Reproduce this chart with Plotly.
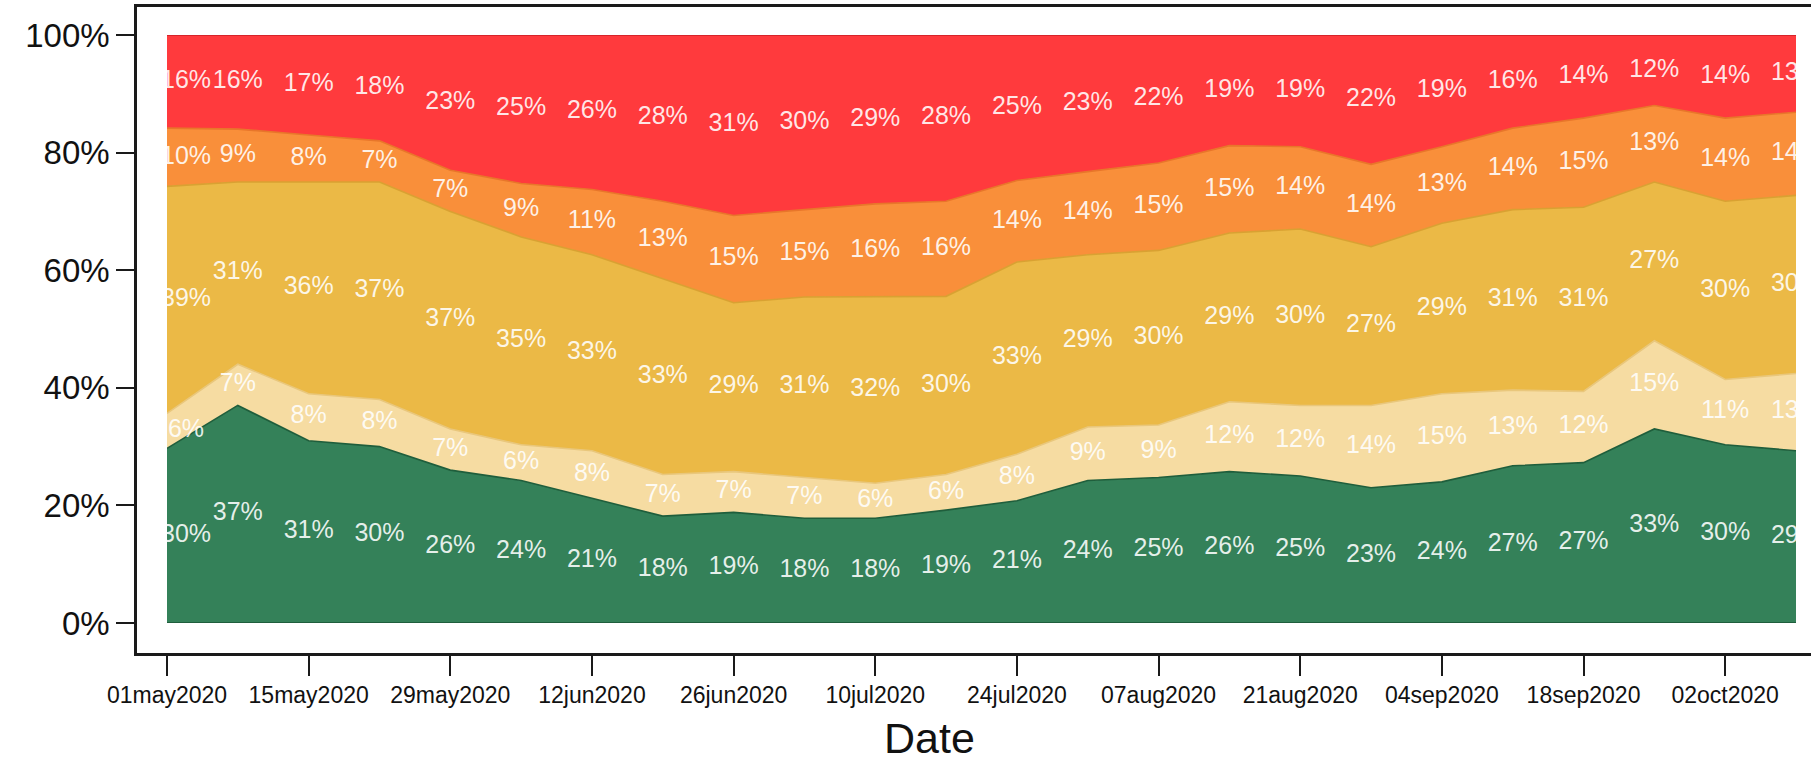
import numpy as np
import pandas as pd
import plotly.graph_objects as go

# Weekly survey dates
dates = ["2020-05-01", "2020-05-08", "2020-05-15", "2020-05-22", "2020-05-29",
         "2020-06-05", "2020-06-12", "2020-06-19", "2020-06-26", "2020-07-03",
         "2020-07-10", "2020-07-17", "2020-07-24", "2020-07-31", "2020-08-07",
         "2020-08-14", "2020-08-21", "2020-08-28", "2020-09-04", "2020-09-11",
         "2020-09-18", "2020-09-25", "2020-10-02", "2020-10-09"]

# Shares per category (bottom to top), percent
green = [30, 37, 31, 30, 26, 24, 21, 18, 19, 18, 18, 19, 21, 24, 25, 26, 25, 23, 24, 27, 27, 33, 30, 29]
tan = [6, 7, 8, 8, 7, 6, 8, 7, 7, 7, 6, 6, 8, 9, 9, 12, 12, 14, 15, 13, 12, 15, 11, 13]
gold = [39, 31, 36, 37, 37, 35, 33, 33, 29, 31, 32, 30, 33, 29, 30, 29, 30, 27, 29, 31, 31, 27, 30, 30]
orange = [10, 9, 8, 7, 7, 9, 11, 13, 15, 15, 16, 16, 14, 14, 15, 15, 14, 14, 13, 14, 15, 13, 14, 14]
red = [16, 16, 17, 18, 23, 25, 26, 28, 31, 30, 29, 28, 25, 23, 22, 19, 19, 22, 19, 16, 14, 12, 14, 13]

# Axis ticks
tick_dates = ["2020-05-01", "2020-05-15", "2020-05-29", "2020-06-12", "2020-06-26",
              "2020-07-10", "2020-07-24", "2020-08-07", "2020-08-21", "2020-09-04",
              "2020-09-18", "2020-10-02"]
tick_text = ["01may2020", "15may2020", "29may2020", "12jun2020", "26jun2020",
             "10jul2020", "24jul2020", "07aug2020", "21aug2020", "04sep2020",
             "18sep2020", "02oct2020"]
y_ticks = [0, 20, 40, 60, 80, 100]
y_tick_text = ["0%", "20%", "40%", "60%", "80%", "100%"]

W, H = 1811, 757
t0 = pd.Timestamp(dates[0])
days = np.array([(pd.Timestamp(d) - t0).days for d in dates], dtype=float)
tick_days = [(pd.Timestamp(d) - t0).days for d in tick_dates]

series = [
    ("green", green, "#348159", "#1f5e3c"),
    ("tan", tan, "#f6dca2", "#e9c77c"),
    ("gold", gold, "#ebb946", "#d9a132"),
    ("orange", orange, "#f98f3a", "#e8762a"),
    ("red", red, "#ff3a3d", "#c81e24"),
]

# Pixel layout helpers
def px_x(p):
    return p / W

def px_y(p):
    return 1 - p / H

data_left, data_right = 167, 1796
data_top, data_bottom = 35, 623
frame_left, frame_right = 137, 1811
frame_top, frame_bottom = 7, 653

span = days[-1] - days[0]
ppd = (data_right - data_left) / span          # pixels per day
ppp = (data_bottom - data_top) / 100.0         # pixels per percent

# first label of each row sits a little right of its point
label_x = days.copy()
label_x[0] = days[0] + 19 / ppd

fig = go.Figure()

totals = np.sum([np.array(s[1], dtype=float) for s in series], axis=0)
cum = np.zeros(len(days))
for name, vals, fill, edge in series:
    v = np.array(vals, dtype=float)
    fig.add_trace(go.Scatter(
        x=days, y=v, mode="lines", stackgroup="one", groupnorm="percent",
        line=dict(color=edge, width=1.6), fillcolor=fill,
        xaxis="x2", yaxis="y2", name=name, hoverinfo="skip",
    ))
    share = v / totals * 100
    mid = cum + share / 2
    cum = cum + share
    fig.add_trace(go.Scatter(
        x=label_x, y=mid, mode="text",
        text=[f"{int(t)}%" for t in vals],
        textfont=dict(color="rgba(255,255,255,0.88)", size=25,
                      family="Liberation Sans, Arial, sans-serif"),
        textposition="middle center", cliponaxis=True,
        xaxis="x2", yaxis="y2", showlegend=False, hoverinfo="skip",
    ))

# Frame axes with ticks (invisible anchor trace)
fig.add_trace(go.Scatter(x=[days[0]], y=[0], mode="markers",
                         marker=dict(opacity=0), showlegend=False,
                         hoverinfo="skip", xaxis="x", yaxis="y"))

x_lo = days[0] - (data_left - frame_left) / ppd
x_hi = days[-1] + (frame_right - data_right) / ppd
y_lo = -(frame_bottom - data_bottom) / ppp
y_hi = 100 + (data_top - frame_top) / ppp

axis_font = dict(family="Liberation Sans, Arial, sans-serif", color="#111")

fig.update_layout(
    width=W, height=H, autosize=False,
    margin=dict(l=0, r=0, t=0, b=0, autoexpand=False),
    paper_bgcolor="white", plot_bgcolor="rgba(0,0,0,0)",
    showlegend=False,
    xaxis=dict(domain=[px_x(frame_left), px_x(frame_right)], range=[x_lo, x_hi],
               automargin=False,
               showgrid=False, zeroline=False, showline=True, linecolor="#1a1a1a",
               linewidth=2.5, mirror=True, ticks="outside", ticklen=20, tickwidth=2,
               tickcolor="#1a1a1a", tickvals=tick_days, ticktext=tick_text,
               tickfont=dict(size=23, **axis_font), anchor="y"),
    yaxis=dict(domain=[px_y(frame_bottom), px_y(frame_top)], range=[y_lo, y_hi],
               automargin=False,
               showgrid=False, zeroline=False, showline=True, linecolor="#1a1a1a",
               linewidth=2.5, ticks="outside", ticklen=18, tickwidth=2,
               tickcolor="#1a1a1a", tickvals=y_ticks, ticktext=y_tick_text,
               tickfont=dict(size=33, **axis_font), anchor="x"),
    xaxis2=dict(domain=[px_x(data_left), px_x(data_right)],
                range=[days[0], days[-1]], visible=False, anchor="y2",
                automargin=False),
    yaxis2=dict(domain=[px_y(data_bottom), px_y(data_top)], range=[0, 100],
                visible=False, anchor="x2", automargin=False),
    shapes=[dict(type="line", xref="x2", yref="y2", x0=days[0], x1=days[-1],
                 y0=0, y1=0, line=dict(color="#1f5e3c", width=2))],
    annotations=[dict(text="Date", x=px_x(930), y=px_y(738), xref="paper",
                      yref="paper", showarrow=False, xanchor="center",
                      yanchor="middle", font=dict(size=43, **axis_font))],
)

fig.write_html("out.html")
